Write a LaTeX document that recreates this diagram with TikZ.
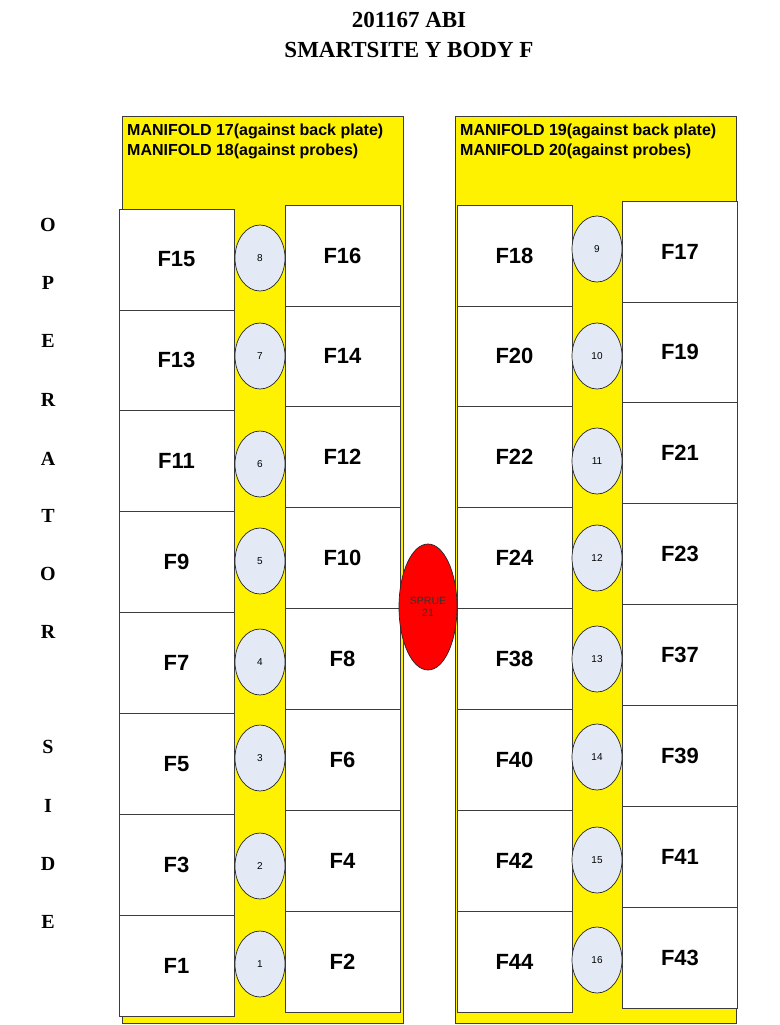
\documentclass[tikz,border=0pt]{standalone}
\usepackage{fontspec}
\setmainfont{Liberation Serif}
\newfontfamily\arialfont{Liberation Sans}
\usetikzlibrary{shapes.geometric}

\definecolor{nozzleblue}{RGB}{228,234,245}
\definecolor{boxline}{RGB}{60,60,60}

\tikzset{
  manifold/.style={draw=boxline, fill=yellow, line width=0.9pt},
  cavity/.style={draw=boxline, fill=white, line width=0.8pt, inner sep=0pt,
    minimum width=115pt, minimum height=101pt,
    font=\arialfont\bfseries\fontsize{22}{22}\selectfont},
  nozzle/.style={ellipse, draw=black!85, fill=nozzleblue, line width=0.7pt, inner sep=0pt,
    minimum width=50pt, minimum height=66pt,
    font=\arialfont\fontsize{10}{10}\selectfont},
  mantext/.style={anchor=north west, align=left, inner sep=0pt,
    font=\arialfont\bfseries\fontsize{16}{20}\selectfont},
  sideletter/.style={font=\bfseries\fontsize{20}{20}\selectfont, inner sep=0pt}
}

\begin{document}
\begin{tikzpicture}[x=1pt, y=-1pt]
\useasboundingbox (0,0) rectangle (779,1025);

% title
\node (title) [align=center, font=\bfseries\fontsize{23}{30}\selectfont] at (409,35)
  {201167 ABI\\SMARTSITE Y BODY F};

% operator side
\foreach \ch/\yy [count=\i] in {O/225, P/283, E/341, R/400, A/459, T/516, O/574, R/632,
                                 S/747, I/806, D/864, E/922}
  \node (side\i) [sideletter] at (48,\yy) {\ch};

% manifolds
\draw [manifold] (122,116) rectangle (403,1023);
\draw [manifold] (455,116) rectangle (736,1023);
\node (manA) [mantext] at (127,124) {MANIFOLD 17(against back plate)\\MANIFOLD 18(against probes)};
\node (manB) [mantext] at (460,124) {MANIFOLD 19(against back plate)\\MANIFOLD 20(against probes)};

% cavities
\foreach \lbl [count=\i from 0] in {15,13,11,9,7,5,3,1}
  \node (f\lbl) [cavity] at (176.5,259.5+100.9*\i) {F\lbl};
\foreach \lbl [count=\i from 0] in {16,14,12,10,8,6,4,2}
  \node (f\lbl) [cavity] at (342.5,255.5+100.9*\i) {F\lbl};
\foreach \lbl [count=\i from 0] in {18,20,22,24,38,40,42,44}
  \node (f\lbl) [cavity] at (514.5,255.5+100.9*\i) {F\lbl};
\foreach \lbl [count=\i from 0] in {17,19,21,23,37,39,41,43}
  \node (f\lbl) [cavity] at (680,251.5+100.9*\i) {F\lbl};

% nozzles
\foreach \num/\yy in {8/258, 7/356, 6/464, 5/561, 4/662, 3/758, 2/866, 1/964}
  \node (n\num) [nozzle] at (260,\yy) {\num};
\foreach \num/\yy in {9/249, 10/356, 11/461, 12/558, 13/659, 14/757, 15/860, 16/960}
  \node (n\num) [nozzle] at (597,\yy) {\num};

% sprue
\node (sprue) [ellipse, draw=black!85, fill=red, line width=0.7pt, inner sep=0pt,
  minimum width=58pt, minimum height=126pt, align=center,
  font=\arialfont\fontsize{10.5}{12}\selectfont, text=black!80] at (428,607) {SPRUE\\21};

\end{tikzpicture}
\end{document}
